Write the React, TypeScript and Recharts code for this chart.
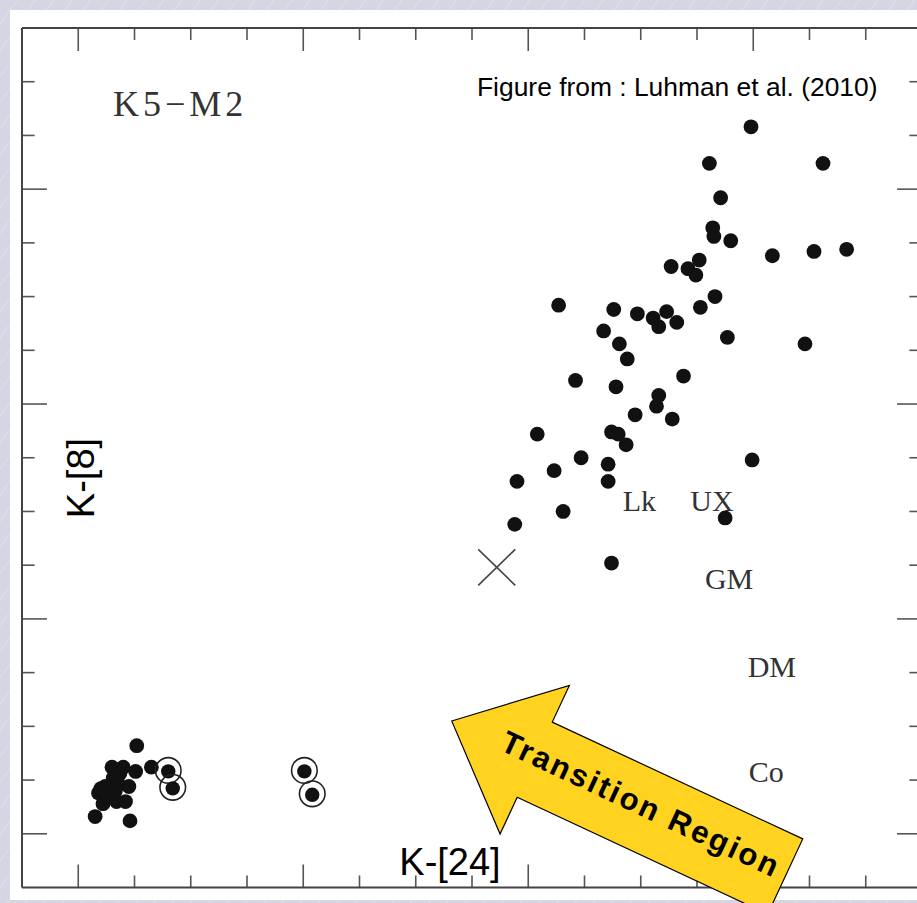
import React from 'react';
import { ScatterChart, Scatter, XAxis, YAxis, ReferenceLine } from 'recharts';

// Disk-bearing stars (filled dots, upper right group)
const diskX = [5.98, 5.61, 6.62, 5.71, 5.64, 5.65, 5.80, 6.17, 6.54, 6.83, 5.27, 5.42, 5.52, 5.49, 5.66, 4.27, 4.76, 4.97, 5.11, 5.23, 5.16, 5.32, 5.53, 4.67, 4.81, 4.88, 5.77, 6.46, 4.42, 4.78, 5.38, 5.16, 5.14, 4.95, 5.28, 4.08, 4.74, 4.80, 4.87, 4.47, 4.71, 5.99, 4.23, 3.90, 4.71, 4.31, 3.88, 5.75, 4.74];
const diskY = [3.29, 3.12, 3.12, 2.96, 2.82, 2.78, 2.76, 2.69, 2.71, 2.72, 2.64, 2.63, 2.67, 2.60, 2.50, 2.46, 2.44, 2.42, 2.40, 2.43, 2.36, 2.38, 2.45, 2.34, 2.28, 2.21, 2.31, 2.28, 2.11, 2.08, 2.13, 2.04, 1.99, 1.95, 1.93, 1.86, 1.87, 1.86, 1.81, 1.75, 1.72, 1.74, 1.69, 1.64, 1.64, 1.50, 1.44, 1.47, 1.26];

// Photospheric stars (filled dots, lower left clump)
const photX = [0.52, 0.65, 0.30, 0.40, 0.51, 0.31, 0.45, 0.24, 0.18, 0.28, 0.22, 0.34, 0.42, 0.15, 0.46, 0.36, 0.25, 0.37, 0.33, 0.20];
const photY = [0.41, 0.31, 0.31, 0.31, 0.29, 0.26, 0.22, 0.22, 0.19, 0.18, 0.14, 0.15, 0.15, 0.08, 0.06, 0.23, 0.17, 0.28, 0.20, 0.21];

// Circled stars
const ringX = [0.80, 0.84, 2.01, 2.08];
const ringY = [0.295, 0.216, 0.295, 0.186];

// Cross marker
const crossX = [3.72];
const crossY = [1.24];

// Class labels inside the plot
const classLabels = ['Lk', 'UX', 'GM', 'DM', 'Co'];
const classLabelX = [4.84, 5.44, 5.57, 5.95, 5.96];
const classLabelY = [1.50, 1.50, 1.14, 0.73, 0.24];

// Axis ticks (no tick labels in the figure)
const xTicks = [0, 0.5, 1, 1.5, 2, 2.5, 3, 3.5, 4, 4.5, 5, 5.5, 6, 6.5, 7];
const xMajorTicks = [0, 2, 4, 6];
const yTicks = [0, 0.25, 0.5, 0.75, 1, 1.25, 1.5, 1.75, 2, 2.25, 2.5, 2.75, 3, 3.25, 3.5];
const yMajorTicks = [0, 1, 2, 3];

const X_MIN = -0.5;
const X_MAX = 7.5;
const Y_MIN = -0.25;
const Y_MAX = 3.75;

// inward tick lengths, in axis units (x-axis ticks measured in y units and vice versa)
const X_TICK_MAJOR = 0.107;
const X_TICK_MINOR = 0.056;
const Y_TICK_MAJOR = 0.222;
const Y_TICK_MINOR = 0.112;

const toPoints = (xs: number[], ys: number[]) => xs.map((x, i) => ({ x, y: ys[i] }));
const diskData = toPoints(diskX, diskY);
const photData = toPoints(photX, photY);
const ringData = toPoints(ringX, ringY);
const crossData = toPoints(crossX, crossY);
const labelData = classLabels.map((name, i) => ({ x: classLabelX[i], y: classLabelY[i], name }));

const TICK_COLOR = '#555';
const FRAME_COLOR = '#444';
const DOT_COLOR = '#111';

const DotShape = (p: any) => <circle cx={p.cx} cy={p.cy} r={7.4} fill={DOT_COLOR} />;
const RingShape = (p: any) => (
  <g>
    <circle cx={p.cx} cy={p.cy} r={12.8} fill="none" stroke="#222" strokeWidth={1.6} />
    <circle cx={p.cx} cy={p.cy + 1} r={7.2} fill={DOT_COLOR} />
  </g>
);
const CrossShape = (p: any) => (
  <g stroke="#444" strokeWidth={1.6}>
    <line x1={p.cx - 18.5} y1={p.cy - 18} x2={p.cx + 18.5} y2={p.cy + 18} />
    <line x1={p.cx - 18.5} y1={p.cy + 18} x2={p.cx + 18.5} y2={p.cy - 18} />
  </g>
);
const LabelShape = (p: any) => (
  <text x={p.cx} y={p.cy} fontFamily="'Liberation Serif', serif" fontSize={30} fill="#333">
    {p.payload.name}
  </text>
);

const frameLine = { stroke: FRAME_COLOR, strokeWidth: 2 };

export default function App() {
  const tickSegments: { key: string; seg: { x: number; y: number }[] }[] = [];
  xTicks.forEach((v) => {
    const len = xMajorTicks.includes(v) ? X_TICK_MAJOR : X_TICK_MINOR;
    tickSegments.push({ key: `t${v}`, seg: [{ x: v, y: Y_MAX }, { x: v, y: Y_MAX - len }] });
    tickSegments.push({ key: `b${v}`, seg: [{ x: v, y: Y_MIN }, { x: v, y: Y_MIN + len }] });
  });
  yTicks.forEach((v) => {
    const len = yMajorTicks.includes(v) ? Y_TICK_MAJOR : Y_TICK_MINOR;
    tickSegments.push({ key: `l${v}`, seg: [{ x: X_MIN, y: v }, { x: X_MIN + len, y: v }] });
    tickSegments.push({ key: `r${v}`, seg: [{ x: X_MAX, y: v }, { x: X_MAX - len, y: v }] });
  });

  const axisCommon = {
    type: 'number' as const,
    mirror: true,
    tick: false,
    tickLine: false,
    allowDataOverflow: true,
    axisLine: frameLine,
  };

  return (
    <div
      style={{
        position: 'fixed',
        left: 0,
        top: 0,
        width: 917,
        height: 903,
        overflow: 'hidden',
        background:
          'repeating-linear-gradient(125deg, #d5d5e4 0px, #d5d5e4 13px, #dfdfec 14px, #d5d5e4 15px)',
      }}
    >
      <div style={{ position: 'absolute', left: 10, top: 10, width: 920, height: 890, background: '#ffffff' }} />
      <div style={{ position: 'absolute', left: 0, top: 0 }}>
        <ScatterChart width={935} height={903} margin={{ top: 28, left: 22, right: 13, bottom: 15.5 }}>
          <XAxis {...axisCommon} xAxisId="b" dataKey="x" orientation="bottom" domain={[X_MIN, X_MAX]} height={1} />
          <XAxis {...axisCommon} xAxisId="t" dataKey="x" orientation="top" domain={[X_MIN, X_MAX]} height={1} />
          <YAxis {...axisCommon} yAxisId="l" dataKey="y" orientation="left" domain={[Y_MIN, Y_MAX]} width={1} />
          <YAxis {...axisCommon} yAxisId="r" dataKey="y" orientation="right" domain={[Y_MIN, Y_MAX]} width={1} />
          {tickSegments.map((t) => (
            <ReferenceLine
              key={t.key}
              xAxisId="b"
              yAxisId="l"
              segment={t.seg}
              stroke={TICK_COLOR}
              strokeWidth={1.6}
              ifOverflow="visible"
            />
          ))}
          <Scatter xAxisId="b" yAxisId="l" data={diskData} shape={<DotShape />} isAnimationActive={false} />
          <Scatter xAxisId="b" yAxisId="l" data={photData} shape={<DotShape />} isAnimationActive={false} />
          <Scatter xAxisId="b" yAxisId="l" data={ringData} shape={<RingShape />} isAnimationActive={false} />
          <Scatter xAxisId="t" yAxisId="r" data={crossData} shape={<CrossShape />} isAnimationActive={false} />
          <Scatter xAxisId="t" yAxisId="r" data={labelData} shape={<LabelShape />} isAnimationActive={false} />
        </ScatterChart>
      </div>
      <svg
        width={917}
        height={903}
        style={{ position: 'absolute', left: 0, top: 0, pointerEvents: 'none' }}
      >
        <text x={113} y={116} fontFamily="'Liberation Serif', serif" fontSize={36} letterSpacing={4} fill="#333">
          K5−M2
        </text>
        <text x={477} y={96} fontFamily="'Liberation Sans', Arial, sans-serif" fontSize={26.4} fill="#000">
          Figure from : Luhman et al. (2010)
        </text>
        <text
          x={94}
          y={478}
          transform="rotate(-90 94 478)"
          textAnchor="middle"
          fontFamily="'Liberation Sans', Arial, sans-serif"
          fontSize={38}
          fill="#000"
        >
          K-[8]
        </text>
        <text
          x={450}
          y={875}
          textAnchor="middle"
          fontFamily="'Liberation Sans', Arial, sans-serif"
          fontSize={38}
          fill="#000"
        >
          K-[24]
        </text>
        <g transform="translate(451.7 721) rotate(25)">
          <polygon
            points="0,0 91.6,-82 91.6,-41.5 368,-41.5 368,41.5 91.6,41.5 91.6,82"
            fill="#FFD320"
            stroke="#000"
            strokeWidth={1.2}
          />
          <text
            x={207}
            y={6}
            textAnchor="middle"
            fontFamily="'Liberation Sans', Arial, sans-serif"
            fontWeight="bold"
            fontSize={31}
            letterSpacing={2.5}
            fill="#000"
          >
            Transition Region
          </text>
        </g>
      </svg>
    </div>
  );
}
